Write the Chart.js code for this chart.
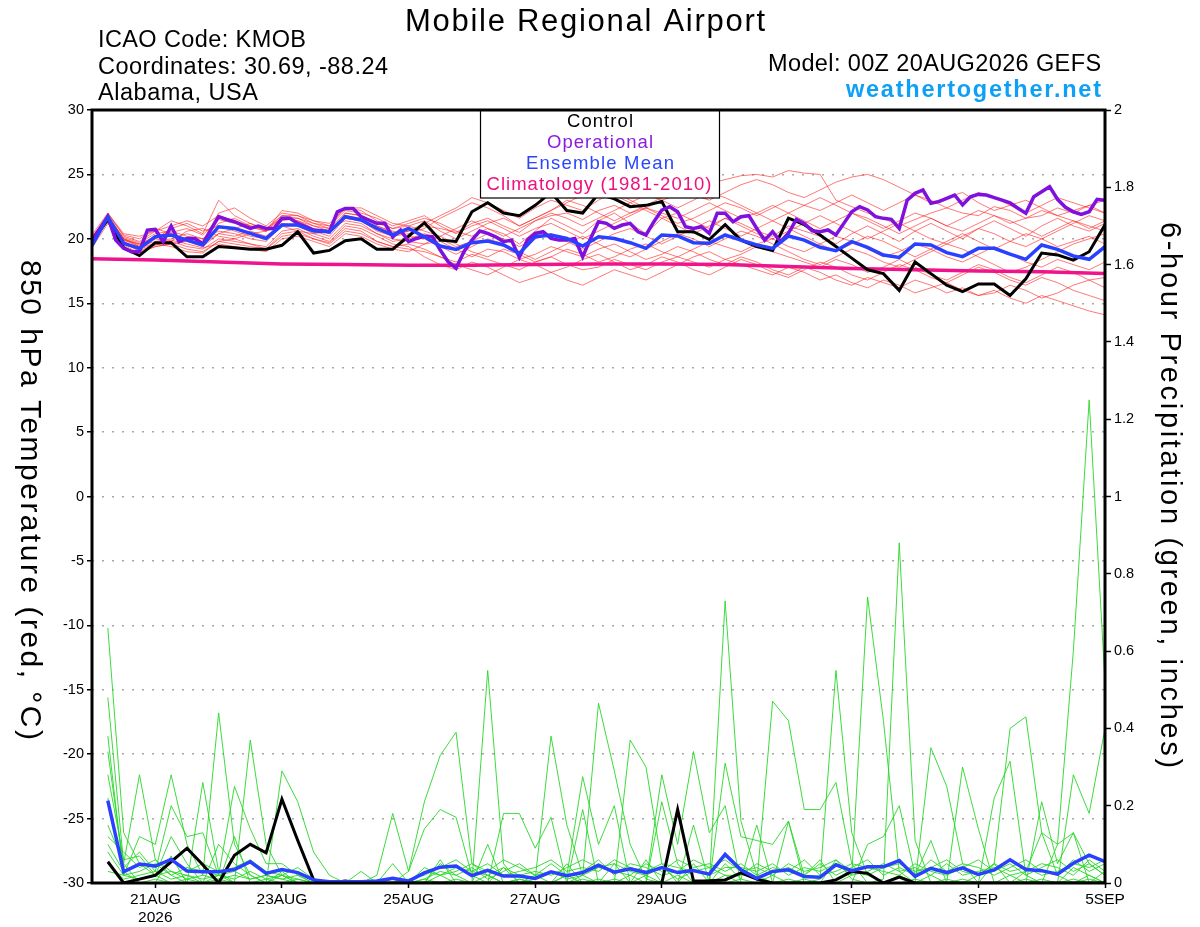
<!DOCTYPE html>
<html><head><meta charset="utf-8">
<script src="https://cdn.jsdelivr.net/npm/chart.js@4.4.1/dist/chart.umd.min.js"></script>
<style>html,body{margin:0;padding:0;background:#fff;}#wrap{width:1200px;height:927px;position:relative;}</style>
</head><body><div id="wrap"><canvas id="c" width="1200" height="927"></canvas></div>
<script>
// ---------- DATA ----------
const forecastHours = Array.from({length:65},(_,i)=>i*6);      // 00Z 20AUG .. 00Z 5SEP, every 6 h
const tickHours  = [24, 72, 120, 168, 216, 288, 336, 384];
const tickLabels = [['21AUG','2026'], '23AUG', '25AUG', '27AUG', '29AUG', '1SEP', '3SEP', '5SEP'];

const climHours = [0,24,48,72,96,120,144,168,192,216,240,264,288,312,336,360,384];
const climTemp  = [18.45,18.35,18.2,18.05,18.0,17.95,17.95,18.0,18.05,18.05,18.0,17.85,17.7,17.6,17.5,17.45,17.3];

const controlTemp = [19.8,21.5,19.3,18.7,19.7,19.7,18.6,18.6,19.4,19.3,19.2,19.2,19.5,20.55,18.9,19.1,19.85,20.0,19.2,19.2,20.2,21.25,
 19.9,19.8,22.1,22.8,22.0,21.8,22.6,23.6,22.2,22.0,23.5,23.1,22.5,22.6,22.9,20.55,20.55,19.95,21.1,19.9,19.4,
 19.1,21.6,21.1,20.3,19.4,18.5,17.6,17.3,16.0,18.2,17.3,16.4,15.9,16.5,16.5,15.6,16.9,18.9,18.75,18.35,19.0,21.1];

const meanTemp = [19.5,21.7,19.65,19.26,20.16,20.3,19.9,19.52,20.94,20.81,20.42,20.03,21.07,21.07,20.6,20.55,21.72,21.46,20.81,20.3,20.81,20.16,
 19.44,19.18,19.7,19.83,19.52,18.87,20.16,20.3,20.03,19.44,20.16,20.03,19.7,19.26,20.3,20.22,19.7,19.65,20.3,19.9,19.52,
 19.26,20.22,19.9,19.34,19.08,19.78,19.34,18.74,18.56,19.6,19.52,18.93,18.62,19.26,19.26,18.82,18.41,19.52,19.18,18.67,18.41,19.39];

const opHours = Array.from({length:129},(_,i)=>i*3);
const opTemp = [19.9,20.8,21.7,19.9,19.26,19.0,19.0,20.68,20.73,19.78,
 20.99,19.78,20.03,20.03,19.6,20.7,21.72,21.5,21.33,21.07,
 20.81,20.99,20.81,20.81,21.59,21.59,21.2,20.94,20.68,20.63,
 20.55,22.1,22.36,22.36,21.72,21.46,21.2,21.2,20.16,20.68,
 19.78,20.03,20.2,20.16,19.13,18.22,17.71,19.0,19.9,20.6,
 20.42,20.16,19.78,19.9,18.56,19.9,20.42,20.55,20.03,19.9,
 19.9,20.03,18.6,20.03,21.33,21.2,20.81,21.07,21.2,20.55,
 20.3,21.33,22.23,22.49,22.1,20.94,20.81,20.94,20.42,21.98,
 21.98,21.33,21.72,21.8,20.8,19.9,20.56,19.78,20.43,21.51,
 21.2,20.63,20.56,20.69,20.3,21.2,22.1,22.5,22.24,21.72,
 21.59,21.51,20.81,23.0,23.53,23.79,22.76,22.89,23.14,23.4,
 22.63,23.27,23.45,23.4,23.2,23.0,22.8,22.37,21.98,23.27,
 23.66,24.05,23.07,22.45,22.1,21.9,22.1,23.07,23.0];

const tempMember01 = [20.0,21.8,20.0,19.6,20.2,20.5,20.8,20.3,21.5,21.2,20.9,20.6,21.8,21.6,21.0,20.8,22.0,21.8,21.0,20.5,20.6,21.0,
 20.8,20.5,21.2,21.6,21.0,20.5,21.4,21.8,22.0,21.5,22.2,22.6,22.0,22.4,23.0,23.4,24.0,24.3,24.6,24.9,25.0,
 24.8,25.3,25.1,25.0,23.0,22.5,22.0,21.6,21.0,21.5,22.0,22.4,22.0,21.8,22.5,22.2,21.6,21.8,22.4,22.0,22.6,23.0];
const tempMember02 = [19.5,21.5,19.8,19.2,19.6,19.4,19.0,18.9,19.8,19.6,19.4,19.2,20.2,20.4,20.0,19.7,20.8,20.6,19.8,19.4,19.2,19.0,
 18.6,18.2,18.8,18.4,18.0,17.6,18.2,18.6,18.0,17.6,17.8,18.4,18.0,17.6,18.2,18.6,18.2,17.8,18.4,18.0,17.6,
 17.2,17.8,17.4,16.8,17.2,16.6,16.2,16.8,16.4,15.8,16.2,16.6,16.0,15.6,16.0,15.4,15.0,15.6,15.2,14.8,14.4,14.1];
const tempMember03 = [19.8,22.0,20.2,19.8,20.6,21.4,21.0,20.4,23.0,21.8,21.2,20.6,22.2,22.0,21.4,21.0,22.4,22.2,21.4,20.8,21.2,21.6,
 21.2,20.6,20.2,20.8,20.4,19.6,20.6,21.6,21.0,20.4,21.4,22.0,21.2,20.4,21.6,22.0,21.4,20.8,21.6,21.2,20.6,
 20.2,21.0,20.6,20.2,19.6,20.4,21.0,20.4,19.8,20.6,21.2,20.6,20.0,20.8,21.4,20.8,20.2,21.0,21.6,21.0,20.6,21.2];
const tempMember04 = [20.2,21.6,19.9,19.4,19.8,20.0,20.4,20.0,20.6,20.4,20.0,19.8,21.0,21.2,20.6,20.2,21.6,21.4,20.6,20.2,20.4,20.8,
 21.6,22.2,22.8,22.4,21.8,21.0,21.6,22.2,23.0,22.6,22.0,21.4,22.0,22.6,23.2,23.8,23.4,23.0,23.6,24.2,24.6,
 24.2,23.6,23.2,23.8,24.4,24.8,25.0,24.6,24.0,23.4,22.8,23.2,23.6,22.8,22.2,22.6,23.0,22.4,21.8,22.2,22.6,22.0];
const tempMember05 = [19.6,21.4,20.0,19.4,19.6,19.8,19.4,19.2,20.0,19.8,19.6,19.4,20.6,20.8,20.2,19.8,21.0,20.8,20.2,19.6,19.4,18.6,
 18.0,17.6,18.2,17.8,17.2,16.6,17.0,17.4,16.8,16.4,17.0,17.6,17.2,16.8,17.4,18.0,18.6,19.0,18.4,18.8,19.4,
 19.0,18.6,18.2,17.8,18.4,18.0,17.4,17.8,18.4,17.8,17.2,16.8,17.4,18.0,17.6,17.0,16.6,17.2,17.8,17.4,16.8,17.0];
const tempMember06 = [19.9,21.7,20.1,19.7,20.4,20.6,20.2,20.0,21.2,21.6,21.0,20.6,21.6,21.4,21.0,20.6,21.8,21.6,20.8,20.2,20.6,21.2,
 21.8,22.4,23.2,22.8,22.2,21.6,22.4,23.0,22.6,22.2,23.0,23.6,23.0,22.4,22.0,21.6,22.2,22.8,22.2,21.6,22.0,
 22.6,22.0,21.4,20.8,21.4,22.0,21.6,21.0,20.4,21.0,21.6,21.0,20.6,21.2,21.8,21.4,20.8,20.2,20.8,21.4,21.0,20.6];
const tempMember07 = [19.4,21.6,19.8,19.0,19.4,19.6,19.8,19.4,20.4,20.2,20.6,20.2,21.2,21.0,20.4,20.0,21.2,21.0,20.4,20.0,19.8,19.6,
 19.8,19.2,18.6,19.2,19.0,18.4,18.8,19.4,19.0,18.6,19.2,19.6,19.0,18.4,18.8,19.4,19.0,18.4,18.0,18.6,18.2,
 17.6,17.2,17.8,17.4,16.8,16.4,17.0,16.6,16.2,16.8,16.4,15.8,16.2,15.6,15.8,16.4,16.0,15.4,15.8,16.4,16.8,16.2];
const tempMember08 = [20.1,21.9,20.3,20.0,20.8,20.4,20.0,19.8,22.0,22.4,21.6,21.0,22.0,21.8,21.2,21.0,22.2,22.0,21.6,21.0,21.4,21.8,
 21.0,20.4,21.0,21.4,20.8,20.2,20.8,21.2,20.6,20.0,20.6,21.2,21.8,22.4,21.8,21.2,21.6,22.2,22.8,22.4,21.8,
 22.4,23.0,22.6,22.2,22.8,23.4,22.8,22.2,22.8,23.4,23.0,22.4,23.0,23.6,23.2,22.6,22.0,22.6,23.2,22.8,22.4,22.0];
const tempMember09 = [19.7,21.3,19.6,19.1,19.5,19.9,19.6,19.3,19.6,19.4,19.2,19.0,20.0,20.2,19.8,19.4,20.4,20.2,19.6,19.2,19.0,19.6,
 20.2,19.6,19.0,18.6,19.2,18.8,18.2,18.6,19.2,18.8,18.2,18.6,19.2,19.6,19.0,18.6,19.2,19.8,19.4,19.0,19.6,
 20.0,19.4,19.0,19.6,20.2,19.8,19.2,18.6,19.0,19.6,19.2,18.6,18.2,18.8,19.4,18.8,18.2,17.8,18.4,18.0,17.6,18.2];
const tempMember10 = [20.0,21.5,19.7,19.3,20.0,20.8,21.2,20.6,21.0,20.6,20.2,20.0,21.4,21.6,21.2,20.8,21.4,21.2,20.4,19.8,20.0,20.4,
 20.0,19.4,19.8,20.4,20.0,19.4,20.0,20.4,19.8,19.2,19.8,20.4,20.8,20.2,19.6,20.2,20.8,21.4,20.8,20.2,20.8,
 21.4,20.8,20.2,19.6,19.0,19.6,20.2,19.8,19.2,18.6,19.2,19.8,20.4,19.8,19.2,19.8,20.4,20.0,19.4,19.8,20.2,19.6];
const tempMember11 = [19.6,21.8,20.0,19.5,20.2,20.2,19.8,19.6,20.4,20.8,21.2,20.8,21.6,21.4,20.8,20.4,22.0,21.8,21.2,20.8,21.0,21.4,
 20.6,20.0,20.6,21.2,21.6,21.0,21.6,22.2,22.8,23.4,24.0,23.4,22.8,22.2,21.6,21.0,20.4,21.0,21.6,21.0,20.4,
 20.0,20.6,21.2,21.8,21.2,20.6,20.0,20.6,21.2,20.6,20.0,19.6,20.2,20.8,20.4,19.8,19.4,20.0,20.6,21.2,21.8,21.4];
const tempMember12 = [19.3,21.2,19.5,18.9,19.4,19.6,19.2,19.0,19.8,20.0,19.6,19.2,20.4,20.6,20.0,19.6,20.6,20.4,19.8,19.4,19.6,19.2,
 18.6,18.0,17.6,17.2,17.8,18.4,18.0,17.4,17.8,18.4,18.8,18.2,17.6,18.0,18.6,18.2,17.6,17.2,17.8,18.4,18.0,
 17.4,17.0,17.6,18.2,17.8,17.2,16.8,17.4,18.0,17.6,17.0,16.6,17.2,17.8,17.4,16.8,16.4,17.0,16.6,16.0,15.6,15.2];
const tempMember13 = [20.3,22.0,20.4,20.2,20.6,21.0,21.4,21.0,21.8,21.4,21.0,20.8,21.8,21.8,21.4,21.2,22.4,22.4,21.8,21.2,21.0,20.6,
 20.2,20.8,21.4,20.8,20.2,20.8,21.4,22.0,21.6,21.0,21.6,22.2,22.8,23.4,23.0,22.4,23.0,23.6,23.2,22.6,22.0,
 21.4,22.0,22.6,23.2,22.6,22.0,21.4,20.8,21.4,22.0,21.6,21.0,21.6,22.2,21.8,21.2,21.6,22.2,21.8,21.4,20.8,21.4];
const tempMember14 = [19.8,21.6,19.9,19.6,20.0,19.8,20.6,20.8,20.2,20.0,20.4,20.6,21.0,20.6,20.4,20.6,21.6,21.4,21.0,20.6,20.2,20.0,
 19.4,18.8,19.4,20.0,19.6,19.0,18.4,19.0,19.6,20.2,19.6,19.0,18.6,19.2,19.8,20.4,20.0,19.4,20.0,20.6,20.2,
 19.6,19.0,18.4,18.0,18.6,19.2,18.8,18.2,17.8,18.4,19.0,19.6,19.2,18.6,18.0,17.4,17.8,18.4,19.0,19.6,20.0,20.4];

const controlPrecip = [null, .055,0,.01,.02,.055,.09,.047,0,.072,.10, .078,.217,.11,.008,0,.005,0,0,0,0,
 0,0,0,0,0,0,0,0,0,0, 0,0,0,0,0,0,.19,.005,.006,.008, .026,.01,0,0,0,0,.008,.03,.025,0, .015,0,0,0,0,0,0,0,0,0, 0,0,0,0];
const meanPrecip = [null, .213,.029,.049,.044,.061,.031,.029,.029,.035,.055, .025,.035,.027,.008,.003,.003,.003,.005,.012,.005,
 .026,.041,.044,.019,.033,.018,.018,.012,.029,.019, .027,.046,.028,.037,.027,.040,.027,.032,.023,.074,
 .034,.012,.030,.034,.017,.015,.047,.032,.042,.042, .058,.017,.038,.027,.039,.022,.034,.060,.035,.032, .023,.051,.072,.055];

const precipMember01 = [null, .66,.13,.05,.02,0,.01,0,.02,0,0, .01,0,0,0,0,0,0,0,0,.03, .21,.33,.39,.05,.02,0,.01,0,0,.02, 0,.01,0,0,.02,0,0,.05,0,.73, .16,.02,0,0,.01,0,.06,.01,0,0, .02,0,0,.01,0,0,0,.02,0,0, .1,.6,1.25,.52];
const precipMember02 = [null, .48,.05,.28,.06,.02,0,.26,.03,0,.37, .1,.02,0,0,0,0,0,0,.01,0, 0,.02,0,0,.55,.05,0,.02,0,0, .01,0,0,.37,.30,.05,0,0,.01,0, 0,0,.02,0,0,.01,.55,.13,.02,0, 0,.01,0,0,0,.02,.05,.40,.43,.13, .02,0,.02,0];
const precipMember03 = [null, .38,.02,.12,.1,.28,.1,.02,.44,.1,.02, 0,.29,.21,.08,.02,0,0,0,0,0, 0,0,.01,0,.02,0,0,.01,.38,.15, .02,0,.01,0,0,0,0,0,0,.02, 0,0,0,.01,0,0,0,.02,.74,.42, .03,0,0,0,.01,0,0,0,.01,0, 0,.28,.18,.40];
const precipMember04 = [null, .34,.04,.08,.03,.2,.12,.13,.02,.25,.14, .05,.05,.02,0,0,0,0,.02,.18,.03, .14,.19,.17,.02,0,0,.01,0,0,0, .02,.465,.29,.1,.01,0,0,0,0,0, .01,0,0,0,0,0,0,0,0,.01, .88,.11,0,0,0,0,.22,.315,.02,0, 0,.01,0,0];
const precipMember05 = [null, .28,.06,.07,.02,.12,.05,0,.01,0,0, 0,.02,0,0,0,0,.03,0,0,0, .01,0,0,0,0,.18,.18,.09,.17,0, 0,0,0,.02,0,.28,.1,.34,.13,.2, 0,0,.47,.42,.19,.19,.26,.05,0,0, 0,0,.02,0,.30,.14,0,0,0,.01, 0,0,.01,0];
const precipMember06 = [null, .22,.03,0,0,.07,0,0,0,.12,0, 0,0,.01,0,0,0,0,0,0,0, 0,0,0,0,0,0,0,0,0,.02, .275,.1,.2,0,0,0,.02,0,0,.31, .12,.11,.1,.16,0,0,0,0,0,0, 0,0,.35,.25,.05,0,0,0,0,.21, .05,.13,.05,.02];
const precipMember07 = [null, .15,.05,0,.01,0,0,0,0,0,0, 0,.03,0,0,0,0,0,0,.05,0, 0,.05,.02,0,.1,0,0,0,0,0, .19,0,0,0,0,.21,.05,0,0,.05, .01,.15,0,0,0,0,0,0,.1,.12, .2,.02,.11,0,0,0,.05,0,0,0, 0,.04,.02,0];
const precipMember08 = [null, .12,.08,.04,.06,.03,.02,0,.1,.05,.02, 0,0,0,0,0,0,0,0,0,0, 0,.06,0,0,0,.04,0,0,0,.05, 0,0,.05,0,.06,0,0,.15,0,0, 0,0,0,.16,.02,.06,0,0,0,0, 0,0,0,0,0,0,0,0,.03,.13, .1,.13,0,.03];
const precipMember09 = [null, .1,.03,.05,.04,.06,.03,.05,.03,.04,.06, .03,.02,.04,.01,0,0,0,0,0,0, .03,.02,.04,.03,.05,.02,.03,.04,.06,.03, .04,.03,.06,.04,.03,.05,.04,.03,.04,.06, .03,.04,.02,.05,.03,.04,.06,.03,.02,.04, .05,.03,.04,.06,.03,.02,.05,.03,.04,.02, .03,.05,.04,.06];
const precipMember10 = [null, .08,.02,.03,.05,.02,.04,.03,.02,.03,.01, .02,.01,0,0,0,0,0,0,0,.01, .02,.04,.06,.03,.02,.04,.02,.03,.02,.04, .06,.04,.03,.02,.05,.03,.06,.04,.05,.03, .05,.02,.04,.03,.06,.02,.03,.05,.04,.03, .02,.05,.03,.02,.04,.06,.03,.05,.02,.04, .06,.03,.05,.02];
const precipMember11 = [null, .05,.01,.02,.03,.01,.02,.01,.02,.01,.03, .01,.02,.01,0,0,0,0,0,0,0, .04,.02,.03,.05,.03,.06,.04,.02,.05,.02, .03,.06,.02,.05,.04,.02,.03,.06,.04,.02, .02,.05,.03,.04,.02,.05,.02,.04,.06,.02, .04,.02,.06,.03,.05,.04,.02,.04,.06,.03, .02,.06,.03,.05];
const precipMember12 = [null, .03,.02,.01,.02,.03,.01,.02,.01,.02,.01, .02,.01,.02,0,0,0,0,0,.01,0, .01,.03,.02,.04,.01,.03,.05,.02,.03,.01, .02,.04,.05,.03,.02,.04,.01,.03,.02,.04, .04,.03,.05,.02,.04,.03,.05,.02,.03,.05, .03,.04,.02,.05,.02,.03,.04,.02,.03,.05, .04,.02,.06,.03];

const tempMembers = [tempMember01,tempMember02,tempMember03,tempMember04,tempMember05,tempMember06,tempMember07,
  tempMember08,tempMember09,tempMember10,tempMember11,tempMember12,tempMember13,tempMember14];
const precipMembers = [precipMember01,precipMember02,precipMember03,precipMember04,precipMember05,precipMember06,
  precipMember07,precipMember08,precipMember09,precipMember10,precipMember11,precipMember12];

// ---------- CHART ----------
const FONT = "'Liberation Sans', Arial, Helvetica, sans-serif";
const pts = (xs, ys) => ys.map((v, i) => ({x: xs[i], y: v}));
const line = (data, axis, color, width, order) => ({
  type: 'line', data, yAxisID: axis, borderColor: color, borderWidth: width,
  pointRadius: 0, tension: 0, fill: false, order, spanGaps: false
});

const datasets = [];
datasets.push(line(pts(forecastHours, meanPrecip), 'y2', '#2a40ff', 3.5, 1));
datasets.push(line(pts(forecastHours, controlPrecip), 'y2', '#000000', 3, 2));
datasets.push(line(pts(forecastHours, meanTemp), 'y', '#2a40ff', 3.5, 1));
datasets.push(line(pts(opHours, opTemp), 'y', '#8010dd', 3.5, 2));
datasets.push(line(pts(forecastHours, controlTemp), 'y', '#000000', 3, 3));
datasets.push(line(pts(climHours, climTemp), 'y', '#f0148c', 3.5, 4));
precipMembers.forEach(m => datasets.push(line(pts(forecastHours, m), 'y2', 'rgba(40,215,40,0.9)', 1, 10)));
tempMembers.forEach(m => datasets.push(line(pts(forecastHours, m), 'y', 'rgba(255,30,30,0.6)', 1, 11)));

function fitText(ctx, text, x, y, width, align) {
  ctx.letterSpacing = '0px';
  const w = ctx.measureText(text).width;
  const n = [...text].length;
  const ls = n > 1 ? (width - w) / (n - 1) : 0;
  ctx.letterSpacing = ls.toFixed(2) + 'px';
  let sx = x;
  if (align === 'center') sx = x - width / 2;
  else if (align === 'right') sx = x - width;
  ctx.textAlign = 'left';
  ctx.fillText(text, sx, y);
  ctx.letterSpacing = '0px';
}

const decor = {
  id: 'decor',
  beforeDraw(chart) {
    const c = chart.ctx;
    c.save(); c.fillStyle = '#fff'; c.fillRect(0, 0, chart.width, chart.height); c.restore();
  },
  afterDraw(chart) {
    const c = chart.ctx, a = chart.chartArea;
    c.save();
    c.textBaseline = 'alphabetic';
    // legend box
    c.fillStyle = '#fff';
    c.fillRect(480, a.top, 239, 88);
    c.strokeStyle = '#000'; c.lineWidth = 1.2;
    c.strokeRect(480.5, a.top, 239, 88);
    c.font = '18.5px ' + FONT;
    c.fillStyle = '#000';     fitText(c, 'Control', 600, 127, 66, 'center');
    c.fillStyle = '#8a1be0';  fitText(c, 'Operational', 600, 148, 106, 'center');
    c.fillStyle = '#2a45ff';  fitText(c, 'Ensemble Mean', 600, 169, 148, 'center');
    c.fillStyle = '#ee1080';  fitText(c, 'Climatology (1981-2010)', 599, 190, 225, 'center');
    // plot frame
    c.strokeStyle = '#000'; c.lineWidth = 3;
    c.strokeRect(a.left, a.top, a.right - a.left, a.bottom - a.top);
    // title and header
    c.fillStyle = '#000';
    c.font = '31px ' + FONT;
    fitText(c, 'Mobile Regional Airport', 585, 31, 360, 'center');
    c.font = '23.5px ' + FONT;
    fitText(c, 'ICAO Code: KMOB', 98, 47, 208, 'left');
    fitText(c, 'Coordinates: 30.69, -88.24', 98, 74, 290, 'left');
    fitText(c, 'Alabama, USA', 98, 100, 160, 'left');
    fitText(c, 'Model: 00Z 20AUG2026 GEFS', 1101, 71, 333, 'right');
    c.fillStyle = '#0ea0f5';
    c.font = 'bold 23.5px ' + FONT;
    fitText(c, 'weathertogether.net', 1101, 97, 255, 'right');
    // axis titles (both read top-to-bottom)
    c.fillStyle = '#000';
    c.font = '30px ' + FONT;
    c.save(); c.translate(21, 500); c.rotate(Math.PI / 2);
    fitText(c, '850 hPa Temperature (red, °C)', 0, 0, 480, 'center');
    c.restore();
    c.font = '29px ' + FONT;
    c.save(); c.translate(1161, 495); c.rotate(Math.PI / 2);
    fitText(c, '6-hour Precipitation (green, inches)', 0, 0, 546, 'center');
    c.restore();
    c.restore();
  }
};

new Chart(document.getElementById('c'), {
  type: 'line',
  data: { datasets },
  options: {
    responsive: false, animation: false, devicePixelRatio: 1,
    layout: { padding: { top: 110, left: 0, right: 0, bottom: 0 } },
    plugins: { legend: { display: false }, tooltip: { enabled: false }, title: { display: false } },
    scales: {
      x: {
        type: 'linear', position: 'bottom', min: 0, max: 384,
        afterBuildTicks: s => { s.ticks = tickHours.map(v => ({ value: v })); },
        afterFit: s => { s.height = 44; },
        ticks: {
          autoSkip: false, maxRotation: 0, minRotation: 0, color: '#000', padding: 3,
          font: { family: FONT, size: 15.5, lineHeight: 1.15 },
          callback: v => { const k = tickHours.indexOf(v); return k >= 0 ? tickLabels[k] : ''; }
        },
        grid: { drawOnChartArea: false, drawTicks: true, tickLength: 5, tickColor: '#000', tickWidth: 1.5 },
        border: { display: false }
      },
      y: {
        type: 'linear', position: 'left', min: -30, max: 30,
        afterFit: s => { s.width = 92; },
        ticks: { stepSize: 5, color: '#000', padding: 3, font: { family: FONT, size: 14.5 } },
        grid: { color: '#a8a8a8', lineWidth: 1.5, drawTicks: true, tickLength: 5, tickColor: '#000', tickWidth: 1.5 },
        border: { display: false, dash: [2, 8] }
      },
      y2: {
        type: 'linear', position: 'right', min: 0, max: 2,
        afterFit: s => { s.width = 95; },
        ticks: { stepSize: 0.2, color: '#000', padding: 3, font: { family: FONT, size: 14.5 },
          callback: v => String(+(+v).toFixed(1)) },
        grid: { drawOnChartArea: false, drawTicks: true, tickLength: 6, tickColor: '#000', tickWidth: 1.5 },
        border: { display: false }
      }
    }
  },
  plugins: [decor]
});
</script>
</body></html>
